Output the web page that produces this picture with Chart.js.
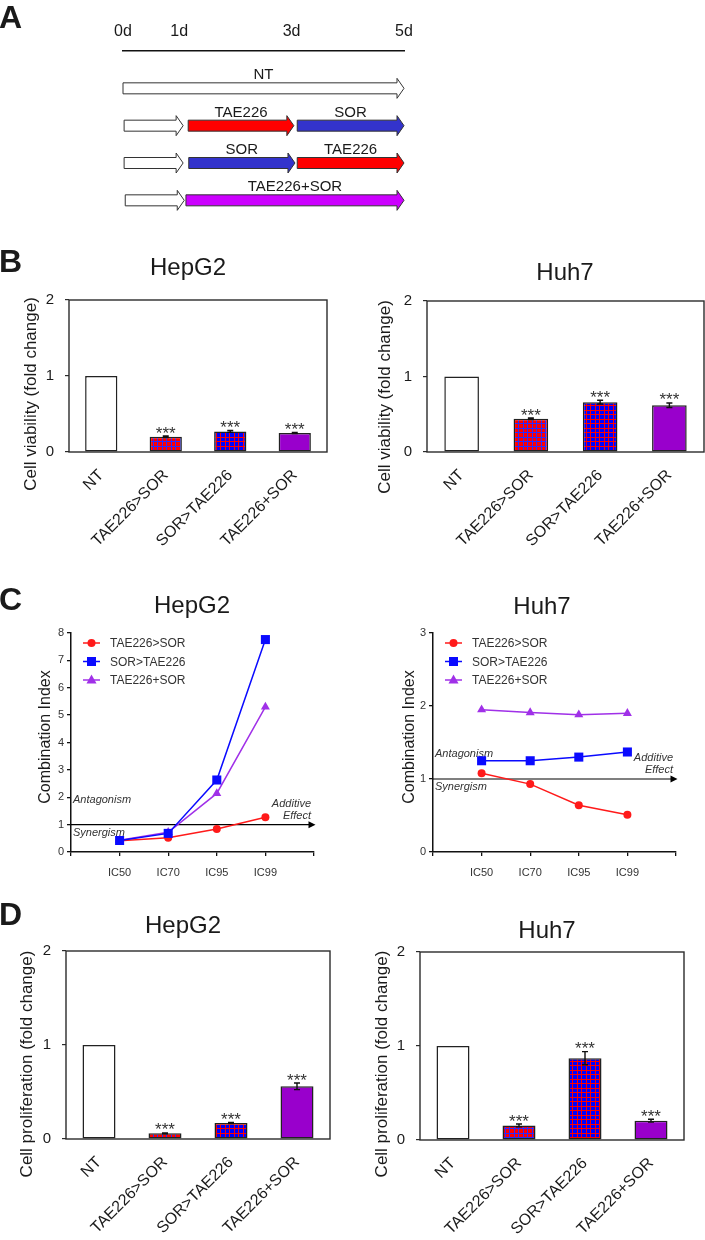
<!DOCTYPE html>
<html>
<head>
<meta charset="utf-8">
<title>TAE226 / sorafenib sequencing</title>
<script src="https://cdn.jsdelivr.net/npm/chart.js@4.4.1/dist/chart.umd.min.js"></script>
<style>
  html, body { margin: 0; padding: 0; background: #fff; }
  #page { position: relative; width: 705px; height: 1240px; overflow: hidden; }
  #page canvas { position: absolute; }
</style>
</head>
<body>
<div id="page">
  <canvas id="schedule" width="705" height="225" style="left:0;top:0"></canvas>
  <canvas id="viabHepG2" width="352" height="320" style="left:0;top:230px"></canvas>
  <canvas id="viabHuh7" width="353" height="320" style="left:352px;top:230px"></canvas>
  <canvas id="ciHepG2" width="352" height="330" style="left:0;top:560px"></canvas>
  <canvas id="ciHuh7" width="353" height="330" style="left:352px;top:560px"></canvas>
  <canvas id="prolHepG2" width="352" height="350" style="left:0;top:890px"></canvas>
  <canvas id="prolHuh7" width="353" height="350" style="left:352px;top:890px"></canvas>
</div>
<script>
// ——— Panel A: treatment schedule (days) ———
var days = [0, 1, 3, 5];
var armRow  = [0, 1, 1, 1, 2, 2, 2, 3, 3];
var armFrom = [0.00, 0.02, 1.16, 3.10, 0.02, 1.17, 3.10, 0.04, 1.12];
var armTo   = [5.00, 1.07, 3.04, 5.00, 1.07, 3.06, 5.00, 1.09, 5.00];
var armDrug = ["NT", "", "TAE226", "SOR", "", "SOR", "TAE226", "", "TAE226+SOR"];

// ——— Panels B & D: bar groups ———
var groups = ["NT", "TAE226>SOR", "SOR>TAE226", "TAE226+SOR"];
var stars  = ["", "***", "***", "***"];
var viabHepG2    = [1.00, 0.20, 0.27, 0.25];
var viabHepG2Err = [0, 0.010, 0.012, 0.008];
var viabHuh7     = [1.00, 0.44, 0.66, 0.62];
var viabHuh7Err  = [0, 0.010, 0.025, 0.030];
var prolHepG2    = [1.00, 0.06, 0.17, 0.56];
var prolHepG2Err = [0, 0.004, 0.005, 0.035];
var prolHuh7     = [1.00, 0.155, 0.87, 0.205];
var prolHuh7Err  = [0, 0.015, 0.070, 0.015];

// ——— Panel C: combination index ———
var icLabels = ["IC50", "IC70", "IC95", "IC99"];
var seriesNames = ["TAE226>SOR", "SOR>TAE226", "TAE226+SOR"];
var ciHepG2TS  = [0.41, 0.52, 0.84, 1.27];
var ciHepG2ST  = [0.42, 0.68, 2.63, 7.76];
var ciHepG2TpS = [0.43, 0.72, 2.14, 5.30];
var ciHuh7TS   = [1.08, 0.93, 0.64, 0.51];
var ciHuh7ST   = [1.25, 1.25, 1.30, 1.37];
var ciHuh7TpS  = [1.95, 1.91, 1.88, 1.90];

(function () {
  var FONT = '"Liberation Sans", Arial, Helvetica, sans-serif';
  var INK = "#1a1a1a";
  Chart.defaults.font.family = FONT;
  Chart.defaults.color = INK;

  // ——— shared helpers ———
  function textLayer(items, ox, oy) {
    return {
      id: "textLayer",
      afterDraw: function (chart) {
        var ctx = chart.ctx;
        items.forEach(function (t) {
          ctx.save();
          ctx.font = t.font;
          ctx.fillStyle = t.color || INK;
          ctx.textAlign = t.align || "center";
          ctx.textBaseline = "alphabetic";
          ctx.translate(t.x - ox, t.y - oy);
          if (t.rotate) ctx.rotate(-Math.PI / 2);
          ctx.fillText(t.text, 0, 0);
          ctx.restore();
        });
      }
    };
  }

  function gridPattern(bg, line) {
    var c = document.createElement("canvas");
    c.width = 9; c.height = 9;
    var g = c.getContext("2d");
    g.fillStyle = bg; g.fillRect(0, 0, 9, 9);
    g.fillStyle = line;
    g.fillRect(0, 0, 9, 1); g.fillRect(0, 4, 9, 1);
    g.fillRect(0, 0, 1, 9); g.fillRect(4, 0, 1, 9);
    return g.createPattern(c, "repeat");
  }

  // ——— Panel A: arrows on a day axis ———
  var drugFill = { "": "#ffffff", "NT": "#ffffff", "TAE226": "#ff0000", "SOR": "#3333cc", "TAE226+SOR": "#cc00ff" };
  var arrowPlugin = {
    id: "arrows",
    beforeDatasetDraw: function (chart, args) {
      var ctx = chart.ctx;
      args.meta.data.forEach(function (el, i) {
        var tip = el.x, tail = el.base, y = el.y;
        var h = el.height / 2, H = 10, hl = 7;
        ctx.save();
        ctx.beginPath();
        ctx.moveTo(tail, y - h);
        ctx.lineTo(tip - hl, y - h);
        ctx.lineTo(tip - hl, y - H);
        ctx.lineTo(tip, y);
        ctx.lineTo(tip - hl, y + H);
        ctx.lineTo(tip - hl, y + h);
        ctx.lineTo(tail, y + h);
        ctx.closePath();
        ctx.fillStyle = drugFill[armDrug[i]];
        ctx.fill();
        ctx.strokeStyle = "#333";
        ctx.lineWidth = 1;
        ctx.stroke();
        if (armDrug[i]) {
          ctx.font = "15px " + FONT;
          ctx.fillStyle = INK;
          ctx.textAlign = "center";
          ctx.fillText(armDrug[i], (tail + tip) / 2, y - 9);
        }
        ctx.restore();
      });
      return false;
    }
  };

  new Chart(document.getElementById("schedule"), {
    type: "bar",
    data: {
      datasets: [{
        data: armRow.map(function (r, i) { return { x: [armFrom[i], armTo[i]], y: r }; }),
        barThickness: 11,
        backgroundColor: "transparent"
      }]
    },
    options: {
      indexAxis: "y",
      responsive: false,
      animation: false,
      events: [],
      layout: { padding: { left: 123, right: 301, top: 0, bottom: 6 } },
      scales: {
        x: {
          type: "linear", position: "top", min: 0, max: 5,
          afterBuildTicks: function (s) { s.ticks = days.map(function (d) { return { value: d }; }); },
          ticks: { callback: function (v) { return v + "d"; }, padding: 10, color: INK, font: { size: 16 } },
          grid: { display: false, drawTicks: false },
          border: { display: true, color: "#111", width: 1.5 },
          afterFit: function (s) { s.height = 51; }
        },
        y: { type: "linear", display: false, reverse: true, offset: false, min: -1, max: 3.5 }
      },
      plugins: { legend: { display: false }, tooltip: { enabled: false } }
    },
    plugins: [arrowPlugin, textLayer([{ text: "A", x: -1, y: 28, font: "bold 32px " + FONT, align: "left" }], 0, 0)]
  });

  // ——— Panels B & D: bar charts ———
  var barFills = ["#ffffff", gridPattern("#ff0000", "#2a2aff"), gridPattern("#0000ff", "#ff0000"), "#9900cc"];

  var framePlugin = {
    id: "frame",
    afterDatasetsDraw: function (chart) {
      var a = chart.chartArea, ctx = chart.ctx;
      ctx.save();
      ctx.strokeStyle = "#2b2b2b";
      ctx.lineWidth = 1.4;
      ctx.strokeRect(a.left, a.top, a.right - a.left, a.bottom - a.top);
      ctx.restore();
    }
  };

  var errorStarPlugin = {
    id: "errorStars",
    afterDatasetsDraw: function (chart) {
      var ctx = chart.ctx, ys = chart.scales.y;
      var ds = chart.data.datasets[0];
      chart.getDatasetMeta(0).data.forEach(function (el, i) {
        var v = ds.data[i], e = ds.errors[i];
        var top = ys.getPixelForValue(v + e), bot = ys.getPixelForValue(v - e);
        ctx.save();
        ctx.strokeStyle = "#111";
        ctx.lineWidth = 1.4;
        if (e > 0) {
          ctx.beginPath();
          ctx.moveTo(el.x, top); ctx.lineTo(el.x, bot);
          ctx.moveTo(el.x - 3, top); ctx.lineTo(el.x + 3, top);
          ctx.moveTo(el.x - 3, bot); ctx.lineTo(el.x + 3, bot);
          ctx.stroke();
        }
        if (ds.stars[i]) {
          ctx.font = "17px " + FONT;
          ctx.fillStyle = "#333";
          ctx.textAlign = "center";
          ctx.fillText(ds.stars[i], el.x, top + 2.5);
        }
        ctx.restore();
      });
    }
  };

  function barPanel(p) {
    var el = document.getElementById(p.id);
    var W = el.width, H = el.height;
    new Chart(el, {
      type: "bar",
      data: {
        labels: groups,
        datasets: [{
          data: p.values,
          errors: p.errors,
          stars: stars,
          backgroundColor: barFills,
          borderColor: "#222",
          borderWidth: 1.5,
          borderSkipped: false,
          barPercentage: 0.5,
          categoryPercentage: 1.0
        }]
      },
      options: {
        responsive: false,
        animation: false,
        events: [],
        layout: { padding: { left: 0, top: p.area.t - p.oy, right: p.ox + W - p.area.r, bottom: 0 } },
        scales: {
          x: {
            grid: { display: false, drawTicks: false },
            border: { display: false },
            ticks: { autoSkip: false, maxRotation: 45, minRotation: 45, padding: 14, color: INK, font: { size: 16 } },
            afterFit: function (s) { s.height = p.oy + H - p.area.b; }
          },
          y: {
            min: 0, max: 2,
            ticks: { stepSize: 1, padding: 11, color: INK, font: { size: 15 } },
            grid: { drawOnChartArea: false, drawTicks: true, tickLength: 4, color: "#2b2b2b", lineWidth: 1.2 },
            border: { display: false },
            afterFit: function (s) { s.width = p.area.l - p.ox; }
          }
        },
        plugins: { legend: { display: false }, tooltip: { enabled: false } }
      },
      plugins: [framePlugin, errorStarPlugin, textLayer(p.texts, p.ox, p.oy)]
    });
  }

  barPanel({
    id: "viabHepG2", ox: 0, oy: 230, area: { l: 69, t: 300, r: 327, b: 452 },
    values: viabHepG2, errors: viabHepG2Err,
    texts: [
      { text: "B", x: -1, y: 272, font: "bold 32px " + FONT, align: "left" },
      { text: "HepG2", x: 188, y: 275, font: "24px " + FONT },
      { text: "Cell viability (fold change)", x: 36, y: 394, font: "17px " + FONT, rotate: true }
    ]
  });
  barPanel({
    id: "viabHuh7", ox: 352, oy: 230, area: { l: 427, t: 301, r: 704, b: 452 },
    values: viabHuh7, errors: viabHuh7Err,
    texts: [
      { text: "Huh7", x: 565, y: 280, font: "24px " + FONT },
      { text: "Cell viability (fold change)", x: 390, y: 397, font: "17px " + FONT, rotate: true }
    ]
  });
  barPanel({
    id: "prolHepG2", ox: 0, oy: 890, area: { l: 66, t: 951, r: 330, b: 1139 },
    values: prolHepG2, errors: prolHepG2Err,
    texts: [
      { text: "D", x: -1, y: 925, font: "bold 32px " + FONT, align: "left" },
      { text: "HepG2", x: 183, y: 933, font: "24px " + FONT },
      { text: "Cell proliferation (fold change)", x: 32, y: 1064, font: "17px " + FONT, rotate: true }
    ]
  });
  barPanel({
    id: "prolHuh7", ox: 352, oy: 890, area: { l: 420, t: 952, r: 684, b: 1140 },
    values: prolHuh7, errors: prolHuh7Err,
    texts: [
      { text: "Huh7", x: 547, y: 938, font: "24px " + FONT },
      { text: "Cell proliferation (fold change)", x: 387, y: 1064, font: "17px " + FONT, rotate: true }
    ]
  });

  // ——— Panel C: combination index lines ———
  function drawMarker(ctx, style, x, y) {
    ctx.beginPath();
    if (style === "circle") {
      ctx.arc(x, y, 4, 0, Math.PI * 2);
    } else if (style === "rect") {
      ctx.rect(x - 4.5, y - 4.5, 9, 9);
    } else {
      ctx.moveTo(x, y - 5.5); ctx.lineTo(x + 5, y + 3.5); ctx.lineTo(x - 5, y + 3.5); ctx.closePath();
    }
    ctx.fill();
  }

  var lineLegend = {
    id: "lineLegend",
    afterDatasetsDraw: function (chart) {
      var a = chart.chartArea, ctx = chart.ctx;
      chart.data.datasets.forEach(function (ds, i) {
        var y = a.top + 10 + i * 18.5;
        ctx.save();
        ctx.strokeStyle = ds.borderColor;
        ctx.fillStyle = ds.borderColor;
        ctx.lineWidth = 1.5;
        ctx.beginPath();
        ctx.moveTo(a.left + 12, y); ctx.lineTo(a.left + 29, y);
        ctx.stroke();
        drawMarker(ctx, ds.pointStyle, a.left + 20.5, y);
        ctx.font = "12px " + FONT;
        ctx.fillStyle = "#333";
        ctx.textAlign = "left";
        ctx.fillText(ds.label, a.left + 39, y + 4.3);
        ctx.restore();
      });
    }
  };

  var additivePlugin = {
    id: "additive",
    beforeDatasetsDraw: function (chart) {
      var a = chart.chartArea, ctx = chart.ctx;
      var y = chart.scales.y.getPixelForValue(1);
      var tip = a.right + 1.5;
      ctx.save();
      ctx.strokeStyle = "#000";
      ctx.fillStyle = "#000";
      ctx.lineWidth = 1.2;
      ctx.beginPath();
      ctx.moveTo(a.left, y); ctx.lineTo(tip - 5, y);
      ctx.stroke();
      ctx.beginPath();
      ctx.moveTo(tip, y); ctx.lineTo(tip - 7, y - 3.5); ctx.lineTo(tip - 7, y + 3.5); ctx.closePath();
      ctx.fill();
      ctx.font = "italic 11px " + FONT;
      ctx.fillStyle = "#333";
      ctx.textAlign = "left";
      ctx.fillText("Antagonism", a.left + 2, y - 22);
      ctx.fillText("Synergism", a.left + 2, y + 11);
      ctx.textAlign = "right";
      ctx.fillText("Additive", a.right - 3, y - 18);
      ctx.fillText("Effect", a.right - 3, y - 6);
      ctx.restore();
    }
  };

  function series(label, vals, color, style, r, order) {
    return {
      label: label,
      data: vals.map(function (v, i) { return { x: i + 1, y: v }; }),
      borderColor: color,
      backgroundColor: color,
      borderWidth: 1.5,
      pointStyle: style,
      pointRadius: r,
      pointBorderWidth: 0,
      tension: 0,
      order: order
    };
  }

  function ciPanel(p) {
    var el = document.getElementById(p.id);
    var W = el.width, H = el.height;
    new Chart(el, {
      type: "line",
      data: {
        datasets: [
          series(seriesNames[0], p.ts, "#ff1a1a", "circle", 4, 1),
          series(seriesNames[1], p.st, "#0a0aff", "rect", 6.4, 0),
          series(seriesNames[2], p.tps, "#a030e8", "triangle", 5.2, 2)
        ]
      },
      options: {
        responsive: false,
        animation: false,
        events: [],
        layout: { padding: { left: 0, top: p.area.t - p.oy, right: p.ox + W - p.area.r, bottom: 0 } },
        scales: {
          x: {
            type: "linear", min: 0, max: 5,
            ticks: {
              stepSize: 1, autoSkip: false, padding: 10, color: "#333", font: { size: 11 },
              callback: function (v) { return icLabels[v - 1] || ""; }
            },
            grid: { drawOnChartArea: false, tickLength: 4, color: "#111", lineWidth: 1.3 },
            border: { color: "#111", width: 1.5 },
            afterFit: function (s) { s.height = p.oy + H - p.area.b; }
          },
          y: {
            min: 0, max: p.yMax,
            ticks: { stepSize: 1, padding: 3, color: "#333", font: { size: 11 } },
            grid: { drawOnChartArea: false, tickLength: 4, color: "#111", lineWidth: 1.3 },
            border: { color: "#111", width: 1.5 },
            afterFit: function (s) { s.width = p.area.l - p.ox; }
          }
        },
        plugins: { legend: { display: false }, tooltip: { enabled: false } }
      },
      plugins: [additivePlugin, lineLegend, textLayer(p.texts, p.ox, p.oy)]
    });
  }

  ciPanel({
    id: "ciHepG2", ox: 0, oy: 560, area: { l: 71, t: 633, r: 314, b: 852 }, yMax: 8,
    ts: ciHepG2TS, st: ciHepG2ST, tps: ciHepG2TpS,
    texts: [
      { text: "C", x: -1, y: 610, font: "bold 32px " + FONT, align: "left" },
      { text: "HepG2", x: 192, y: 613, font: "24px " + FONT },
      { text: "Combination Index", x: 50, y: 737, font: "16px " + FONT, rotate: true }
    ]
  });
  ciPanel({
    id: "ciHuh7", ox: 352, oy: 560, area: { l: 433, t: 633, r: 676, b: 852 }, yMax: 3,
    ts: ciHuh7TS, st: ciHuh7ST, tps: ciHuh7TpS,
    texts: [
      { text: "Huh7", x: 542, y: 614, font: "24px " + FONT },
      { text: "Combination Index", x: 414, y: 737, font: "16px " + FONT, rotate: true }
    ]
  });
})();
</script>
</body>
</html>
